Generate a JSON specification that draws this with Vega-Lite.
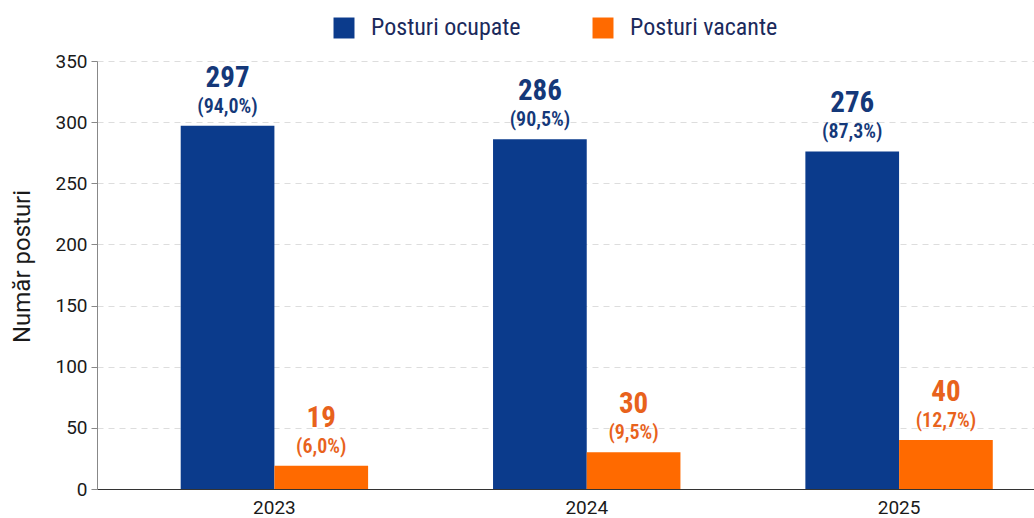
{
  "$schema": "https://vega.github.io/schema/vega-lite/v6.json",
  "width": 937,
  "height": 428,
  "autosize": {"type": "none"},
  "padding": {"left": 97, "top": 61, "right": 0, "bottom": 29},
  "background": "white",
  "config": {
    "view": {"stroke": null},
    "font": "Roboto Condensed, Liberation Sans Narrow, DejaVu Sans Condensed, Roboto"
  },
  "data": {
    "values": [
      {"an": "2023", "serie": "Posturi ocupate", "valoare": 297, "procent": "(94,0%)"},
      {"an": "2023", "serie": "Posturi vacante", "valoare": 19, "procent": "(6,0%)"},
      {"an": "2024", "serie": "Posturi ocupate", "valoare": 286, "procent": "(90,5%)"},
      {"an": "2024", "serie": "Posturi vacante", "valoare": 30, "procent": "(9,5%)"},
      {"an": "2025", "serie": "Posturi ocupate", "valoare": 276, "procent": "(87,3%)"},
      {"an": "2025", "serie": "Posturi vacante", "valoare": 40, "procent": "(12,7%)"}
    ]
  },
  "encoding": {
    "x": {
      "field": "an", "type": "nominal",
      "scale": {"paddingInner": 0.4, "paddingOuter": 0.2, "align": 0.67},
      "axis": {
        "title": null, "labelAngle": 0, "labelFontSize": 19, "labelColor": "#1a1a1a",
        "labelFont": "Roboto",
        "ticks": false, "labelPadding": 9, "domainColor": "#333", "domainWidth": 1.2
      }
    },
    "xOffset": {"field": "serie", "type": "nominal", "scale": {"paddingInner": 0, "paddingOuter": 0}},
    "y": {
      "field": "valoare", "type": "quantitative",
      "scale": {"domain": [0, 350], "nice": false},
      "axis": {
        "title": "Număr posturi", "titleFontSize": 24, "titleFontWeight": "normal", "titleColor": "#1a1a1a",
        "titleFont": "Roboto",
        "titlePadding": 20, "titleY": 205,
        "values": [0, 50, 100, 150, 200, 250, 300, 350],
        "labelFontSize": 19, "labelColor": "#1a1a1a",
        "labelFont": "Roboto",
        "tickSize": 6, "tickColor": "#888", "labelPadding": 4,
        "domainColor": "#888",
        "grid": true, "gridDash": [6, 5], "gridColor": "#dddddd"
      }
    }
  },
  "layer": [
    {
      "mark": {"type": "bar"},
      "encoding": {
        "color": {
          "field": "serie", "type": "nominal",
          "scale": {"domain": ["Posturi ocupate", "Posturi vacante"], "range": ["#0b3b8c", "#ff6a00"]},
          "legend": {
            "title": null, "orient": "none", "direction": "horizontal",
            "legendX": 235, "legendY": -45,
            "symbolType": "square", "symbolSize": 440, "symbolStrokeWidth": 0,
            "labelFontSize": 24, "labelColor": "#1b2a5c", "labelFontWeight": "normal",
            "labelFont": "Roboto Condensed, Liberation Sans Narrow, DejaVu Sans Condensed, Roboto",
            "labelOffset": 15, "columnPadding": 70
          }
        }
      }
    },
    {
      "mark": {"type": "text", "fontSize": 29, "fontWeight": "bold", "dy": -39, "baseline": "alphabetic"},
      "encoding": {
        "text": {"field": "valoare", "type": "quantitative"},
        "color": {
          "field": "serie", "type": "nominal",
          "scale": {"domain": ["Posturi ocupate", "Posturi vacante"], "range": ["#143879", "#e8621c"]},
          "legend": null
        }
      }
    },
    {
      "mark": {"type": "text", "fontSize": 20, "fontWeight": 600, "dy": -13, "baseline": "alphabetic"},
      "encoding": {
        "text": {"field": "procent", "type": "nominal"},
        "color": {
          "field": "serie", "type": "nominal",
          "scale": {"domain": ["Posturi ocupate", "Posturi vacante"], "range": ["#143879", "#e8621c"]},
          "legend": null
        }
      }
    }
  ],
  "resolve": {"scale": {"color": "independent"}}
}
